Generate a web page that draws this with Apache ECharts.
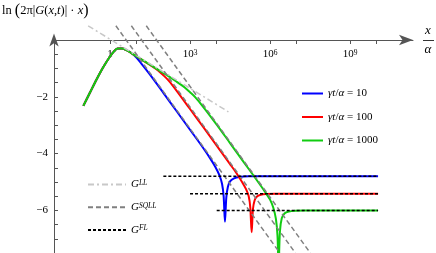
<!DOCTYPE html>
<html><head><meta charset="utf-8">
<script src="https://cdn.jsdelivr.net/npm/echarts@6/dist/echarts.min.js"></script>
<style>html,body{margin:0;padding:0;background:#fff}#c{width:436px;height:253px}</style>
</head><body><div id="c"></div>
<script>
// x values are log10(x/alpha); y values are ln(2*pi*|G|*x)
const xTickValues = [0, 1, 3, 4, 6, 7, 9, 10];
const xLabelValues = [0, 3, 6, 9];
const yTickValues = [-7.5, -7, -6.5, -6, -5.5, -5, -4.5, -4, -3.5, -3, -2.5, -2, -1.5, -1, -0.5];
const yLabelValues = [-2, -4, -6];

// common rising part
const riseX = [-1.0, -0.75, -0.5, -0.25, 0.0, 0.15, 0.28, 0.45, 0.6, 0.8];
const riseY = [-2.32, -1.85, -1.38, -0.95, -0.58, -0.40, -0.30, -0.30, -0.35, -0.46];

const blueX = [1.0, 1.2, 1.5, 2.0, 2.5, 3.0, 3.5, 3.75, 3.95, 4.1, 4.2, 4.26, 4.31, 4.36, 4.42, 4.5, 4.65, 4.85, 5.2, 10.05];
const blueY = [-0.63, -0.86, -1.22, -1.86, -2.51, -3.16, -3.81, -4.16, -4.47, -4.76, -5.06, -5.5, -6.4, -5.55, -5.17, -4.98, -4.87, -4.82, -4.80, -4.80];

const redX = [1.0, 1.5, 1.8, 2.0, 2.2, 2.5, 3.0, 3.5, 4.0, 4.5, 4.75, 4.95, 5.1, 5.2, 5.26, 5.31, 5.36, 5.42, 5.5, 5.65, 5.85, 6.2, 10.05];
const redY = [-0.58, -0.88, -1.07, -1.24, -1.43, -1.79, -2.43, -3.07, -3.72, -4.37, -4.70, -5.0, -5.25, -5.5, -5.9, -6.77, -5.95, -5.65, -5.52, -5.45, -5.42, -5.41, -5.41];

const greenX = [1.0, 1.5, 2.0, 2.5, 2.8, 3.0, 3.2, 3.5, 4.0, 4.5, 5.0, 5.5, 5.8, 6.0, 6.12, 6.22, 6.28, 6.32, 6.37, 6.44, 6.55, 6.7, 6.95, 7.3, 10.05];
const greenY = [-0.58, -0.87, -1.16, -1.47, -1.67, -1.84, -2.02, -2.36, -2.98, -3.63, -4.28, -4.93, -5.33, -5.62, -5.9, -6.3, -6.9, -8.0, -6.75, -6.28, -6.1, -6.04, -6.01, -6.0, -6.0];

const llX = [-0.82, 4.44];
const llY = [0.5, -2.53];

const sqll1X = [0.22, 6.37];
const sqll2X = [0.8, 6.95];
const sqll3X = [1.36, 7.51];
const sqllY = [0.5, -7.5];

const fl1X = [2.0, 10.05], fl1Y = [-4.80, -4.80];
const fl2X = [3.0, 10.05], fl2Y = [-5.41, -5.41];
const fl3X = [4.0, 10.05], fl3Y = [-6.0, -6.0];

const zip = (xs, ys) => xs.map((x, i) => [x, ys[i]]);
const SERIF = '"Liberation Serif","DejaVu Serif",serif';
const X_MIN = -2.1, X_MAX = 11.36;

const curve = (name, color, xs, ys, z) => ({
  name, type: 'line', data: zip(riseX.concat(xs), riseY.concat(ys)),
  smooth: 0.3, symbol: 'none', z,
  lineStyle: { color, width: 2 }, itemStyle: { color }
});
const straight = (name, xs, ys, color, type, z) => ({
  name, type: 'line', data: zip(xs, ys), symbol: 'none', z, clip: false,
  lineStyle: { color, width: 1.5, type }, itemStyle: { color }
});

const legendNames = {
  g10: '{i|γt}{r|/}{i|α}{r| = 10}',
  g100: '{i|γt}{r|/}{i|α}{r| = 100}',
  g1000: '{i|γt}{r|/}{i|α}{r| = 1000}',
  LL: '{i|G}{s|LL}',
  SQLL: '{i|G}{s|SQLL}',
  FL: '{i|G}{s|FL}'
};
const legendRich = {
  i: { fontFamily: SERIF, fontStyle: 'italic', fontSize: 11, color: '#000', verticalAlign: 'bottom' },
  r: { fontFamily: SERIF, fontSize: 11, color: '#000', verticalAlign: 'bottom' },
  s: { fontFamily: SERIF, fontStyle: 'italic', fontSize: 7.5, color: '#000', verticalAlign: 'top' }
};

const chart = echarts.init(document.getElementById('c'), null, { renderer: 'canvas' });
chart.setOption({
  animation: false,
  backgroundColor: '#fff',
  grid: [
    { left: 54, right: 23, top: 40, bottom: 0 },
    { left: 54, right: 23, top: 36, height: 4 }
  ],
  xAxis: [
    { type: 'value', gridIndex: 0, min: X_MIN, max: X_MAX, show: false },
    {
      type: 'value', gridIndex: 1, min: X_MIN, max: X_MAX, position: 'bottom',
      axisLine: { show: true, onZero: false, symbol: ['none', 'arrow'], symbolSize: [8, 14], lineStyle: { color: '#555', width: 1 } },
      axisTick: { show: true, customValues: xTickValues, length: 4, lineStyle: { color: '#555' } },
      axisLabel: { show: false },
      splitLine: { show: false }
    }
  ],
  yAxis: [
    {
      type: 'value', gridIndex: 0, min: -7.5, max: 0,
      axisLine: { show: true, onZero: false, symbol: ['none', 'arrow'], symbolSize: [7, 13], symbolOffset: [0, 6.5], lineStyle: { color: '#555', width: 1 } },
      axisTick: { show: true, inside: true, customValues: yTickValues, length: 4, lineStyle: { color: '#555' } },
      axisLabel: {
        customValues: yLabelValues, margin: 6,
        formatter: v => '−' + Math.abs(v),
        fontFamily: SERIF, fontSize: 11, color: '#000'
      },
      splitLine: { show: false }
    },
    { type: 'value', gridIndex: 1, min: 0, max: 1, show: false }
  ],
  legend: [
    {
      data: ['g10', 'g100', 'g1000'], orient: 'vertical', left: 296, top: 83,
      itemWidth: 21, itemHeight: 12, itemGap: 12.5, itemStyle: { opacity: 0 },
      formatter: n => legendNames[n], textStyle: { rich: legendRich }
    },
    {
      data: ['LL', 'SQLL', 'FL'], orient: 'vertical', left: 82, top: 174,
      itemWidth: 38, itemHeight: 12, itemGap: 11.7, itemStyle: { opacity: 0 },
      formatter: n => legendNames[n], textStyle: { rich: legendRich }
    }
  ],
  graphic: [
    {
      type: 'text', left: 2, top: 3,
      style: {
        text: '{r|ln }{p|(}{r|2π|}{i|G}{r|(}{i|x}{r|,}{i|t}{r|)| · }{i|x}{p|)}',
        rich: {
          r: { fontFamily: SERIF, fontSize: 12.5, fill: '#000' },
          i: { fontFamily: SERIF, fontSize: 12.5, fontStyle: 'italic', fill: '#000' },
          p: { fontFamily: SERIF, fontSize: 16, fill: '#000' }
        }
      }
    },
    { type: 'text', x: 428, y: 31, style: { text: 'x', fontFamily: SERIF, fontStyle: 'italic', fontSize: 13, fill: '#000', align: 'center', verticalAlign: 'middle' } },
    { type: 'line', shape: { x1: 423, y1: 40.5, x2: 434, y2: 40.5 }, style: { stroke: '#000', lineWidth: 0.8 } },
    { type: 'text', x: 428, y: 50, style: { text: 'α', fontFamily: SERIF, fontStyle: 'italic', fontSize: 13, fill: '#000', align: 'center', verticalAlign: 'middle' } }
  ],
  series: [
    curve('g10', '#0000ff', blueX, blueY, 2),
    curve('g100', '#ff0000', redX, redY, 3),
    curve('g1000', '#11cc11', greenX, greenY, 4),
    straight('LL', llX, llY, '#c8c8c8', [6, 3, 2, 3], 5),
    straight('SQLL', sqll1X, sqllY, '#808080', [5, 3], 6),
    straight('SQLL', sqll2X, sqllY, '#808080', [5, 3], 6),
    straight('SQLL', sqll3X, sqllY, '#808080', [5, 3], 6),
    straight('FL', fl1X, fl1Y, '#000', [3, 2], 7),
    straight('FL', fl2X, fl2Y, '#000', [3, 2], 7),
    straight('FL', fl3X, fl3Y, '#000', [3, 2], 7)
  ]
});

// x tick labels placed below the axis line, positioned through the axis scale
const axisY = chart.convertToPixel({ gridIndex: 0 }, [X_MIN, 0])[1];
const labelEls = xLabelValues.map((v, k) => {
  const px = chart.convertToPixel({ xAxisIndex: 0 }, v);
  return {
    id: 'xl' + k, type: 'text', x: px, y: axisY + 9,
    style: {
      text: v === 0 ? '{b|1}' : '{b|10}{s|' + v + '}',
      align: 'center', verticalAlign: 'top',
      rich: {
        b: { fontFamily: SERIF, fontSize: 11, fill: '#000' },
        s: { fontFamily: SERIF, fontSize: 7.5, fill: '#000', verticalAlign: 'top' }
      }
    }
  };
});
chart.setOption({ graphic: labelEls });
</script>
</body></html>
